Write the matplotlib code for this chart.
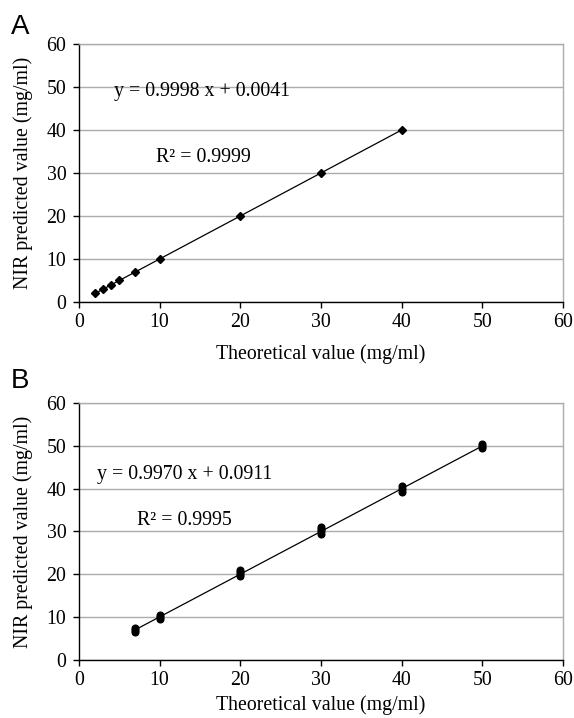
import matplotlib
matplotlib.use("Agg")
import matplotlib.pyplot as plt
import numpy as np

# Panel A data
theo_a = [2, 3, 4, 5, 7, 10, 20, 30, 40]
pred_a = [2.0, 3.0, 4.0, 5.0, 7.0, 10.0, 20.0, 30.0, 40.0]
slope_a, icpt_a = 0.9998, 0.0041

# Panel B data (replicates at each level)
theo_b = [7, 7, 7, 10, 10, 10, 20, 20, 20, 20, 30, 30, 30, 30, 40, 40, 40, 50, 50, 50]
pred_b = [6.5, 7.0, 7.5, 9.5, 10.0, 10.4, 19.5, 20.0, 20.5, 21.0,
          29.5, 30.0, 30.5, 31.0, 39.3, 40.0, 40.6, 49.5, 50.0, 50.3]
slope_b, icpt_b = 0.9970, 0.0911

xticks = [0, 10, 20, 30, 40, 50, 60]
yticks = [0, 10, 20, 30, 40, 50, 60]

FS = 14.3
plt.rcParams['font.family'] = ['Liberation Serif', 'DejaVu Serif']

fig = plt.figure(figsize=(5.74, 7.18), dpi=100)
ax_a = fig.add_axes([0.1376, 0.5794, 0.843, 0.3593])
ax_b = fig.add_axes([0.1376, 0.0808, 0.843, 0.358])


def style_axes(ax, xpad):
    ax.set_xlim(0, 60)
    ax.set_ylim(0, 60)
    ax.set_xticks(xticks)
    ax.set_yticks(yticks)
    ax.yaxis.grid(True, color='#acacac', linewidth=1.0)
    ax.set_axisbelow(True)
    for s in ['top', 'right']:
        ax.spines[s].set_color('#acacac')
        ax.spines[s].set_linewidth(1.0)
    for s in ['left', 'bottom']:
        ax.spines[s].set_color('black')
        ax.spines[s].set_linewidth(1.0)
    ax.tick_params(direction='out', length=4, width=1, labelsize=FS)
    ax.tick_params(axis='y', pad=5)
    ax.tick_params(axis='x', pad=4)
    ax.set_xlabel("Theoretical value (mg/ml)", fontsize=FS, labelpad=xpad)
    ax.set_ylabel("NIR predicted value (mg/ml)", fontsize=FS, labelpad=10)


style_axes(ax_a, 9)
xa = np.array([min(theo_a), max(theo_a)])
ax_a.plot(xa, slope_a * xa + icpt_a, color='black', linewidth=0.9)
ax_a.plot(theo_a, pred_a, linestyle='none', marker='D', markersize=4, color='black')
ax_a.text(4.35, 49.0, "y = 0.9998 x + 0.0041", fontsize=FS, va='center')
ax_a.text(9.6, 33.6, "R² = 0.9999", fontsize=FS, va='center')
fig.text(0.019, 0.9624, "A", fontsize=20, family='Liberation Sans', va='center')

style_axes(ax_b, 4)
xb = np.array([min(theo_b), max(theo_b)])
ax_b.plot(xb, slope_b * xb + icpt_b, color='black', linewidth=0.9)
ax_b.plot(theo_b, pred_b, linestyle='none', marker='o', markersize=4.8, color='black')
ax_b.text(2.2, 43.4, "y = 0.9970 x + 0.0911", fontsize=FS, va='center')
ax_b.text(7.2, 32.6, "R² = 0.9995", fontsize=FS, va='center')
fig.text(0.019, 0.4694, "B", fontsize=20, family='Liberation Sans', va='center')

fig.savefig("out.png", dpi=100)
